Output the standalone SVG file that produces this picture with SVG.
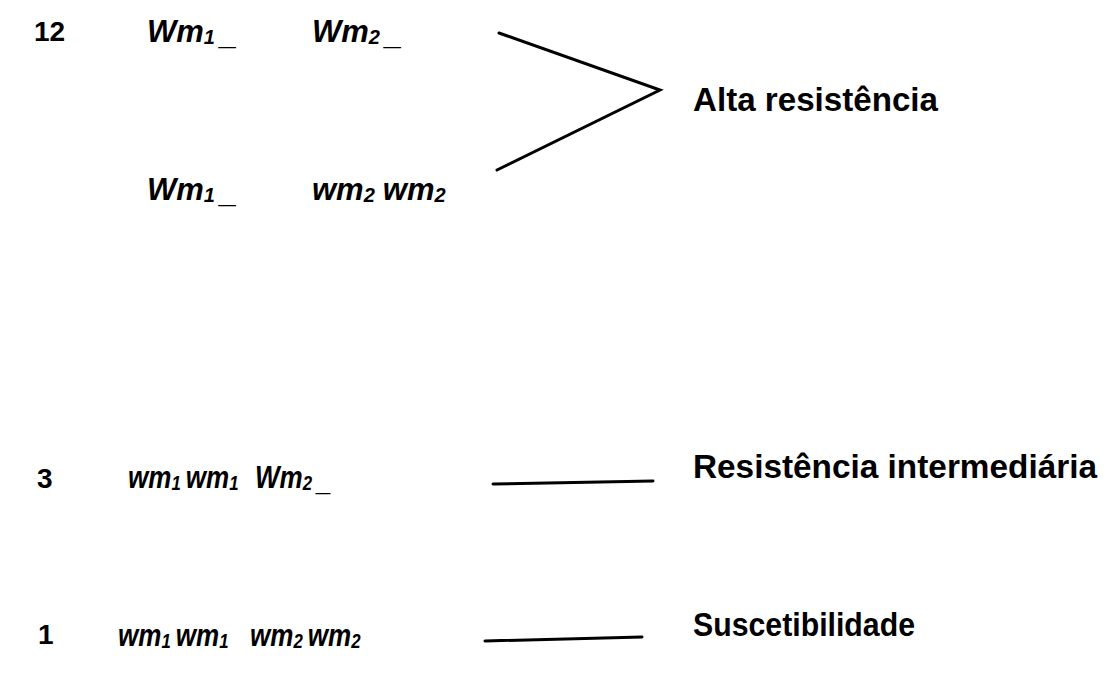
<svg xmlns="http://www.w3.org/2000/svg" width="1106" height="687" viewBox="0 0 1106 687">
<style>
.num{font-family:"Liberation Sans",Arial,sans-serif;font-weight:bold;font-size:28px;fill:#000}
.g{font-family:"Liberation Sans",Arial,sans-serif;font-weight:bold;font-style:italic;font-size:31px;fill:#000}
.sub{font-size:20px}
.lab{font-family:"Liberation Sans",Arial,sans-serif;font-weight:bold;font-size:34px;fill:#000}
.c{stroke:#000;stroke-width:3;fill:none;stroke-linecap:round}
</style>
<rect width="1106" height="687" fill="#fff"/>
<g id="connectors">
<polyline class="c" points="499,33 660,90 497,170"/>
<line class="c" x1="493" y1="484" x2="653" y2="481"/>
<line class="c" x1="485" y1="641" x2="642" y2="637"/>
</g>
<g id="row-12">
<text class="num" x="34" y="41">12</text>
<g transform="translate(147,42)"><text class="g">Wm<tspan class="sub" dy="2">1</tspan><tspan dx="5" dy="0">_</tspan></text></g>
<g transform="translate(312,42)"><text class="g">Wm<tspan class="sub" dy="2">2</tspan><tspan dx="5" dy="0">_</tspan></text></g>
</g>
<g id="row-12b">
<g transform="translate(147,200)"><text class="g">Wm<tspan class="sub" dy="2">1</tspan><tspan dx="5" dy="0">_</tspan></text></g>
<g transform="translate(312,200)"><text class="g">wm<tspan class="sub" dy="2">2</tspan><tspan dx="8" dy="-2">wm</tspan><tspan class="sub" dy="2">2</tspan></text></g>
</g>
<g id="alta">
<text class="lab" x="693" y="111" textLength="245" lengthAdjust="spacingAndGlyphs">Alta resistência</text>
</g>
<g id="row-3">
<text class="num" x="37" y="488">3</text>
<g transform="translate(128,488) scale(0.84,1)"><text class="g">wm<tspan class="sub" dy="2">1</tspan><tspan dx="6" dy="-2">wm</tspan><tspan class="sub" dy="2">1</tspan></text></g>
<g transform="translate(255,488) scale(0.84,1)"><text class="g">Wm<tspan class="sub" dy="2">2</tspan><tspan dx="6" dy="0">_</tspan></text></g>
</g>
<g id="intermediaria">
<text class="lab" x="693" y="478" textLength="404" lengthAdjust="spacingAndGlyphs">Resistência intermediária</text>
</g>
<g id="row-1">
<text class="num" x="38" y="644">1</text>
<g transform="translate(118,646) scale(0.84,1)"><text class="g">wm<tspan class="sub" dy="2">1</tspan><tspan dx="6" dy="-2">wm</tspan><tspan class="sub" dy="2">1</tspan></text></g>
<g transform="translate(250,646) scale(0.84,1)"><text class="g">wm<tspan class="sub" dy="2">2</tspan><tspan dx="6" dy="-2">wm</tspan><tspan class="sub" dy="2">2</tspan></text></g>
</g>
<g id="suscetibilidade">
<text class="lab" x="693" y="636" textLength="222" lengthAdjust="spacingAndGlyphs">Suscetibilidade</text>
</g>
</svg>
